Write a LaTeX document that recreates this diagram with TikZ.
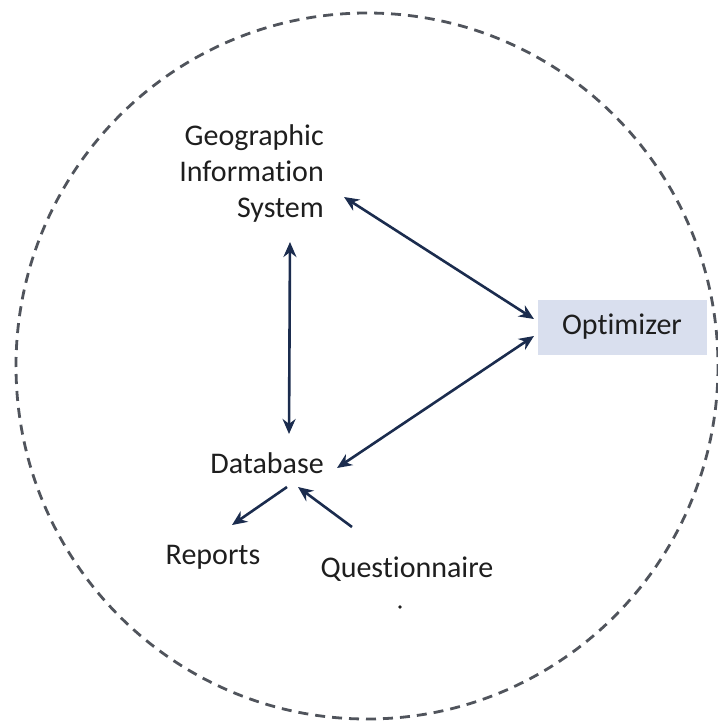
\documentclass[tikz,border=0pt]{standalone}
\usepackage{fontspec}
\setmainfont{Carlito}[Ligatures={NoCommon,NoRequired,NoContextual}]
\usetikzlibrary{arrows.meta,calc}
\definecolor{arrowc}{HTML}{1B2C4E}
\definecolor{txtc}{HTML}{1E1E1E}
\definecolor{boxc}{HTML}{D9DFEE}
\definecolor{ringc}{HTML}{50545C}
\begin{document}
\begin{tikzpicture}[x=1pt,y=-1pt,
  lbl/.style={text=txtc,font=\fontsize{30}{36}\selectfont,inner sep=0pt},
  conn/.style={draw=arrowc,line width=2.6pt,-{Stealth[length=15pt,width=13pt]}},
  biconn/.style={draw=arrowc,line width=2.6pt,{Stealth[length=15pt,width=13pt]}-{Stealth[length=15pt,width=13pt]}}]
\useasboundingbox (0,0) rectangle (718,721);
\draw[ringc,line width=2.8pt,dash pattern=on 10pt off 7pt] (367,366) ellipse (351 and 353);
\node[lbl,align=right,anchor=north east] (gis) at (324,124) {Geographic\\Information\\System};
\node[lbl,fill=boxc,minimum width=169pt,minimum height=55pt] (opt) at (622,327) {Optimizer};
\node[lbl] (db) at (267,463) {Database};
\node[lbl] (rep) at (213,557) {Reports};
\node[lbl] (que) at (407,569) {Questionnaire};
\fill[txtc] (400,607) circle (1.8);
\coordinate (g1) at (344,197);
\coordinate (g2) at (290,242);
\coordinate (o1) at (534,319);
\coordinate (o2) at (534,336);
\coordinate (d1) at (337,468);
\coordinate (d2) at (289,434);
\coordinate (d3) at (287,487);
\coordinate (d4) at (298,487);
\coordinate (r1) at (232,525);
\coordinate (q1) at (352,527);
\path[biconn] (g1) -- (o1);
\path[biconn] (o2) -- (d1);
\path[biconn] (g2) -- (d2);
\path[conn] (d3) -- (r1);
\path[conn] (q1) -- (d4);
\end{tikzpicture}
\end{document}
